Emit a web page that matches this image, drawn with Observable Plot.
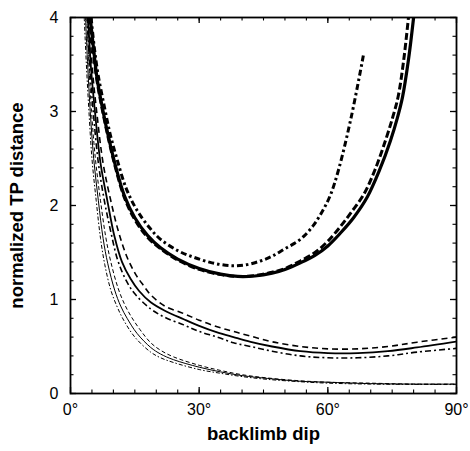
<!DOCTYPE html>
<html>
<head>
<meta charset="utf-8">
<script src="https://cdn.jsdelivr.net/npm/d3@7"></script>
<script src="https://cdn.jsdelivr.net/npm/@observablehq/plot@0.6"></script>
<style>
  html, body { margin: 0; padding: 0; background: #fff; }
</style>
</head>
<body>
<div id="chart"></div>
<script>
// Tick values
const xMajor = [0, 30, 60, 90];
const xMinor = d3.range(0, 91, 5);
const yMajor = [0, 1, 2, 3, 4];
const yMinor = d3.range(0, 4.01, 0.2);

// Series: [backlimb dip (deg), normalized TP distance]
const thickSolid = [[4.6,4],[5.3,3.7],[6.2,3.35],[7.6,3.0],[9,2.7],[10.5,2.42],[12.6,2.1],[15,1.87],[18,1.68],[21,1.55],[25,1.43],[30,1.33],[35,1.27],[39,1.245],[43,1.25],[47,1.28],[50,1.32],[53.6,1.39],[57,1.47],[60,1.57],[63,1.71],[66,1.87],[69.2,2.09],[72,2.37],[74.6,2.69],[76.2,2.93],[77.4,3.15],[78.8,3.55],[80,4.0]];
const thickDashed = [[4.5,4],[5.2,3.7],[6.1,3.35],[7.5,3.0],[9,2.68],[10.5,2.4],[12.6,2.08],[15,1.85],[18,1.66],[21,1.54],[25,1.42],[30,1.32],[35,1.265],[39,1.245],[43,1.255],[47,1.29],[50,1.33],[53.6,1.41],[57,1.5],[60,1.62],[63,1.78],[65.5,1.93],[68.4,2.12],[71,2.38],[73.5,2.7],[75.2,2.95],[76.4,3.16],[77.7,3.55],[78.8,4.0]];
const thickDashDot = [[4.8,4],[5.5,3.7],[6.4,3.4],[7.9,3.05],[9.3,2.75],[10.8,2.5],[13,2.18],[15.5,1.95],[18.5,1.76],[21,1.64],[25,1.52],[28.7,1.45],[33,1.39],[37.3,1.36],[41,1.37],[44.3,1.41],[47,1.46],[50,1.54],[53.6,1.64],[56.5,1.78],[58.5,1.92],[60.5,2.1],[62.5,2.38],[65.5,2.95],[68.3,3.6]];

const midSolid = [[4.1,4],[4.8,3.45],[5.7,3.0],[7,2.45],[8.6,2.05],[10.2,1.68],[12,1.4],[14,1.22],[16,1.09],[18.7,0.97],[22,0.88],[26.4,0.79],[30,0.72],[34.2,0.65],[38,0.6],[42,0.55],[47,0.5],[53.6,0.45],[60,0.43],[67,0.43],[74,0.45],[80.8,0.49],[90,0.553]];
const midDashed = [[4.4,4],[5.1,3.45],[6.1,3.0],[7.6,2.45],[9.4,2.05],[11.2,1.72],[13.2,1.45],[15.3,1.26],[17,1.15],[18.7,1.05],[22,0.93],[26.4,0.85],[30,0.78],[34.2,0.71],[38,0.66],[42,0.61],[47,0.55],[53.6,0.5],[60,0.475],[67,0.475],[74,0.5],[80.8,0.546],[90,0.6]];
const midDashDot = [[3.9,4],[4.5,3.45],[5.3,3.0],[6.5,2.45],[7.9,2.05],[9.4,1.72],[11,1.42],[13,1.2],[15,1.06],[18.7,0.9],[22,0.81],[26.4,0.73],[30,0.66],[34.2,0.6],[38,0.54],[42,0.5],[47,0.45],[53.6,0.4],[60,0.38],[67,0.38],[74,0.4],[80.8,0.44],[90,0.48]];

const thinSolid = [[3.5,4],[4,3.5],[4.6,3.0],[5.4,2.5],[6.5,2.05],[7.6,1.65],[8.7,1.38],[10.3,1.1],[11.7,0.93],[13.2,0.8],[15.5,0.64],[18.7,0.49],[21,0.42],[24,0.36],[30,0.28],[35,0.23],[40,0.19],[46,0.16],[53.6,0.13],[60,0.12],[70,0.105],[80,0.1],[90,0.1]];
const thinDashed = [[3.8,4],[4.3,3.5],[4.9,3.0],[5.8,2.5],[7.0,2.05],[8.2,1.67],[9.4,1.4],[11.1,1.12],[12.5,0.96],[14,0.83],[16.2,0.68],[18.7,0.54],[21,0.46],[24,0.39],[30,0.3],[35,0.245],[40,0.2],[46,0.165],[53.6,0.135],[60,0.12],[70,0.11],[80,0.1],[90,0.1]];
const thinDashDot = [[3.2,4],[3.7,3.5],[4.3,3.0],[5.0,2.5],[6.0,2.05],[7.0,1.65],[8.0,1.37],[9.4,1.1],[10.9,0.92],[12.4,0.78],[15,0.6],[18.7,0.44],[21,0.38],[24,0.33],[30,0.255],[35,0.215],[40,0.18],[46,0.15],[53.6,0.125],[60,0.11],[70,0.1],[80,0.097],[90,0.095]];

const W = 470, H = 451, mL = 70, mR = 14, mT = 17, mB = 58;
const fw = W - mL - mR, fh = H - mT - mB;
const font = "'Liberation Sans', Arial, Helvetica, sans-serif";

const ln = (data, opts) => Plot.line(data, {x: d => d[0], y: d => d[1], curve: "catmull-rom", stroke: "#000", clip: true, strokeLinecap: "butt", ...opts});

const chart = Plot.plot({
  width: W, height: H,
  marginLeft: mL, marginRight: mR, marginTop: mT, marginBottom: mB,
  style: {fontFamily: font, background: "#fff", color: "#000"},
  x: {domain: [0, 90]},
  y: {domain: [0, 4]},
  marks: [
    // inward ticks, bottom and top
    Plot.ruleX(xMajor, {insetTop: fh - 6, strokeWidth: 1.3}),
    Plot.ruleX(xMinor, {insetTop: fh - 3.5, strokeWidth: 1.1}),
    Plot.ruleX(xMajor, {insetBottom: fh - 6, strokeWidth: 1.3}),
    Plot.ruleX(xMinor, {insetBottom: fh - 3.5, strokeWidth: 1.1}),
    // inward ticks, left and right
    Plot.ruleY(yMajor, {insetRight: fw - 6, strokeWidth: 1.3}),
    Plot.ruleY(yMinor, {insetRight: fw - 3.5, strokeWidth: 1.1}),
    Plot.ruleY(yMajor, {insetLeft: fw - 6, strokeWidth: 1.3}),
    Plot.ruleY(yMinor, {insetLeft: fw - 3.5, strokeWidth: 1.1}),
    Plot.frame({stroke: "#000", strokeWidth: 1.8}),
    Plot.axisX({ticks: xMajor, tickSize: 0, tickPadding: 10, tickFormat: d => d + "°", fontSize: 16, label: null}),
    Plot.axisY({ticks: yMajor, tickSize: 0, tickPadding: 12, tickFormat: d => String(d), fontSize: 16, label: null}),
    // thin group
    ln(thinSolid, {strokeWidth: 1}),
    ln(thinDashed, {strokeWidth: 1, strokeDasharray: "4,2.5"}),
    ln(thinDashDot, {strokeWidth: 1, strokeDasharray: "4,2,1.5,2"}),
    // medium group
    ln(midSolid, {strokeWidth: 1.8}),
    ln(midDashed, {strokeWidth: 1.6, strokeDasharray: "6,4"}),
    ln(midDashDot, {strokeWidth: 1.6, strokeDasharray: "6,3,2,3"}),
    // thick group
    ln(thickSolid, {strokeWidth: 3.2}),
    ln(thickDashed, {strokeWidth: 3, strokeDasharray: "7,3"}),
    ln(thickDashDot, {strokeWidth: 3, strokeDasharray: "6,3,2.5,3"}),
    // axis titles
    Plot.text(["backlimb dip"], {frameAnchor: "bottom", dy: 46, fontSize: 18.5, fontWeight: "bold", fill: "#000"}),
    Plot.text(["normalized TP distance"], {frameAnchor: "left", dx: -53, rotate: -90, textAnchor: "middle", fontSize: 18.5, fontWeight: "bold", fill: "#000"})
  ]
});
document.getElementById("chart").appendChild(chart);
</script>
</body>
</html>
